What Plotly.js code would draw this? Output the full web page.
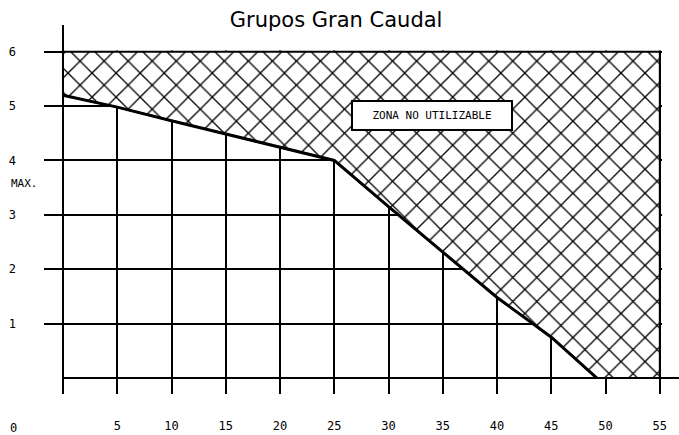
<!DOCTYPE html>
<html>
<head>
<meta charset="utf-8">
<script src="https://cdn.plot.ly/plotly-3.0.1.min.js"></script>
<style>html,body{margin:0;padding:0;background:#fff;}#chart{width:679px;height:435px;}</style>
</head>
<body>
<div id="chart"></div>
<script>
// Limit curve (boundary of usable zone)
var curveX = [0, 5, 10, 15, 20, 25, 30, 35, 40, 45, 49.2];
var curveY = [5.2, 4.98, 4.73, 4.49, 4.25, 4.0, 3.15, 2.32, 1.48, 0.75, 0];
// Chart frame limits
var xMax = 55;
var yMax = 6;
// Tick labels
var xTickVals = [0, 5, 10, 15, 20, 25, 30, 35, 40, 45, 50, 55];
var xTickText = ['', '5', '10', '15', '20', '25', '30', '35', '40', '45', '50', '55'];
var yTickVals = [1, 2, 3, 4, 5, 6];
var yTickText = ['1', '2', '3', '4', '5', '6'];
var titleText = 'Grupos Gran Caudal';
var zoneLabel = 'ZONA NO UTILIZABLE';
var zoneLabelPos = [34, 4.83];
var maxLabel = 'MAX.';
var maxLabelY = 3.58;
var zeroLabel = '0';

var xRange = [-1.75, 55.2];
var yRange = [-0.294, 6.49];

// hatched (unusable) polygon: curve, then right edge and top edge
var polyX = curveX.concat([xMax, xMax, 0, curveX[0]]);
var polyY = curveY.concat([0, yMax, yMax, curveY[0]]);

var labelFont = {family: 'DejaVu Sans Mono', size: 12, color: '#000'};

var traces = [
  {
    x: polyX, y: polyY, mode: 'lines', fill: 'toself',
    fillcolor: 'white',
    fillpattern: {shape: 'x', size: 17, solidity: 0.15, fgcolor: '#000', bgcolor: '#fff'},
    line: {color: '#000', width: 2},
    hoverinfo: 'skip', showlegend: false
  },
  {
    x: curveX, y: curveY, mode: 'lines',
    line: {color: '#000', width: 3},
    hoverinfo: 'skip', showlegend: false
  }
];

var x0paper = (0 - xRange[0]) / (xRange[1] - xRange[0]);

var layout = {
  width: 679, height: 435,
  margin: {l: 44, r: 17, t: 25, b: 41},
  paper_bgcolor: '#fff', plot_bgcolor: '#fff',
  showlegend: false,
  title: {text: titleText, x: 0.495, xref: 'container', xanchor: 'center', y: 0.955, yanchor: 'middle',
          font: {family: 'DejaVu Sans', size: 21, color: '#000'}},
  xaxis: {
    range: xRange, tickmode: 'array', tickvals: xTickVals, ticktext: xTickText,
    showgrid: true, gridcolor: '#000', gridwidth: 2, zeroline: false, showline: false,
    ticks: '', ticklabelstandoff: 23, tickfont: labelFont, fixedrange: true
  },
  yaxis: {
    range: yRange, tickmode: 'array', tickvals: yTickVals, ticktext: yTickText,
    showgrid: true, gridcolor: '#000', gridwidth: 2, zeroline: false, showline: false,
    ticks: '', ticklabelstandoff: 27, tickfont: labelFont, fixedrange: true
  },
  shapes: [
    // hide vertical gridlines above the frame (except the y axis at x=0)
    {type: 'rect', layer: 'between', xref: 'x', yref: 'y', x0: 0.15, x1: xRange[1] + 1,
     y0: yMax + 0.02, y1: yRange[1] + 1, fillcolor: '#fff', line: {width: 0}},
    // baseline y = 0
    {type: 'line', layer: 'between', xref: 'paper', yref: 'y', x0: x0paper, x1: 1.03,
     y0: 0, y1: 0, line: {color: '#000', width: 2}}
  ],
  annotations: [
    {x: zoneLabelPos[0], y: zoneLabelPos[1], xref: 'x', yref: 'y', text: zoneLabel, showarrow: false,
     font: {family: 'DejaVu Sans Mono', size: 11, color: '#000'},
     bgcolor: '#fff', bordercolor: '#000', borderwidth: 2, borderpad: 3, width: 152, height: 21},
    {x: -0.032, y: maxLabelY, xref: 'paper', yref: 'y', text: maxLabel, showarrow: false,
     xanchor: 'center', font: {family: 'DejaVu Sans Mono', size: 11, color: '#000'}},
    {x: -0.05, y: -0.092, xref: 'paper', yref: 'paper', text: zeroLabel, showarrow: false,
     xanchor: 'center', yanchor: 'middle', font: labelFont}
  ]
};

Plotly.newPlot('chart', traces, layout, {displayModeBar: false, staticPlot: true});
</script>
</body>
</html>
